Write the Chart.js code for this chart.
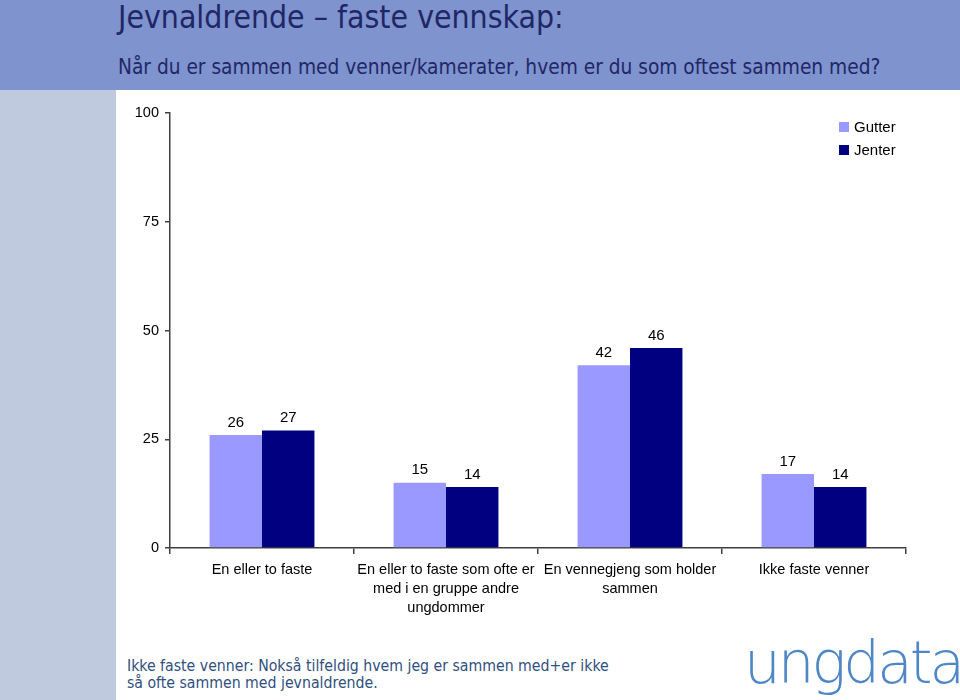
<!DOCTYPE html>
<html>
<head>
<meta charset="utf-8">
<script src="https://cdn.jsdelivr.net/npm/chart.js@4.4.1/dist/chart.umd.min.js"></script>
<style>
  html, body { margin: 0; padding: 0; }
  body { width: 960px; height: 700px; position: relative; overflow: hidden; background: #fff; }
  #header { position: absolute; left: 0; top: 0; width: 960px; height: 90px; background: #7f93cf; }
  #side { position: absolute; left: 0; top: 90px; width: 116px; height: 610px; background: #bfcadf; }
  #title { position: absolute; left: 118px; top: -1px; font-family: "DejaVu Sans Condensed", "DejaVu Sans", sans-serif; font-size: 31.7px; color: #1f2766; white-space: nowrap; }
  #subtitle { position: absolute; left: 118px; top: 55px; font-family: "DejaVu Sans Condensed", "DejaVu Sans", sans-serif; font-size: 20.7px; color: #1f2766; white-space: nowrap; }
  #chartBox { position: absolute; left: 116px; top: 90px; }
  .legend { position: absolute; left: 839px; font-family: "Liberation Sans", Arial, sans-serif; font-size: 15px; color: #000; }
  .legend span { display: inline-block; width: 10px; height: 10px; margin-right: 5px; }
  #note { position: absolute; left: 127px; top: 657px; font-family: "DejaVu Sans Condensed", "DejaVu Sans", sans-serif; font-size: 15.7px; line-height: 17px; color: #2f4f80; white-space: nowrap; }
  #logo { position: absolute; left: 744px; top: 634px; font-family: "DejaVu Sans", sans-serif; font-weight: 200; font-size: 58px; line-height: 58px; color: #4f87c6; letter-spacing: -3px; white-space: nowrap; }
</style>
</head>
<body>
<div id="header"></div>
<div id="side"></div>
<div id="title">Jevnaldrende – faste vennskap:</div>
<div id="subtitle">Når du er sammen med venner/kamerater, hvem er du som oftest sammen med?</div>
<div id="chartBox"><canvas id="chart" width="844" height="545"></canvas></div>
<div class="legend" style="top:118px"><span style="background:#9999ff"></span>Gutter</div>
<div class="legend" style="top:141px"><span style="background:#000080"></span>Jenter</div>
<div id="note">Ikke faste venner: Nokså tilfeldig hvem jeg er sammen med+er ikke<br>så ofte sammen med jevnaldrende.</div>
<div id="logo">ungdata</div>
<script>
// chart data
const categories = [
  'En eller to faste',
  ['En eller to faste som ofte er', 'med i en gruppe andre', 'ungdommer'],
  ['En vennegjeng som holder', 'sammen'],
  'Ikke faste venner'
];
const seriesNames = ['Gutter', 'Jenter'];
const gutterValues = [26, 15, 42, 17];
const jenterValues = [27, 14, 46, 14];
const yTicks = [0, 25, 50, 75, 100];

const seriesColors = ['#9999ff', '#000080'];
const labelFont = { family: '"Liberation Sans", Arial, sans-serif', size: 14.5 };

// draws the value above every bar
const barValues = {
  id: 'barValues',
  afterDatasetsDraw(chart) {
    const ctx = chart.ctx;
    ctx.save();
    ctx.font = '15px "Liberation Sans", Arial, sans-serif';
    ctx.fillStyle = '#000';
    ctx.textAlign = 'center';
    ctx.textBaseline = 'bottom';
    chart.data.datasets.forEach((ds, i) => {
      chart.getDatasetMeta(i).data.forEach((bar, j) => {
        ctx.fillText(ds.data[j], bar.x, bar.y - 5);
      });
    });
    ctx.restore();
  }
};

new Chart(document.getElementById('chart').getContext('2d'), {
  type: 'bar',
  data: {
    labels: categories,
    datasets: [
      { label: seriesNames[0], data: gutterValues, backgroundColor: seriesColors[0] },
      { label: seriesNames[1], data: jenterValues, backgroundColor: seriesColors[1] }
    ]
  },
  options: {
    responsive: false,
    animation: false,
    devicePixelRatio: 1,
    categoryPercentage: 0.57,
    barPercentage: 1,
    layout: { padding: { top: 23, right: 54, left: 0, bottom: 0 } },
    plugins: { legend: { display: false }, tooltip: { enabled: false } },
    scales: {
      x: {
        grid: { display: true, drawOnChartArea: false, drawTicks: true, tickLength: 6, color: '#404040', lineWidth: 1.5, offset: true },
        border: { display: true, color: '#404040', width: 1.5 },
        ticks: { font: { ...labelFont, lineHeight: 1.3 }, color: '#000', padding: 7, maxRotation: 0, autoSkip: false },
        afterFit(scale) { scale.height = 87; }
      },
      y: {
        min: 0,
        max: 100,
        afterBuildTicks(scale) { scale.ticks = yTicks.map(v => ({ value: v })); },
        grid: { display: true, drawOnChartArea: false, drawTicks: true, tickLength: 5, color: '#404040', lineWidth: 1.5 },
        border: { display: true, color: '#404040', width: 1.5 },
        ticks: { font: labelFont, color: '#000', padding: 6 },
        afterFit(scale) { scale.width = 54; }
      }
    }
  },
  plugins: [barValues]
});
</script>
</body>
</html>
